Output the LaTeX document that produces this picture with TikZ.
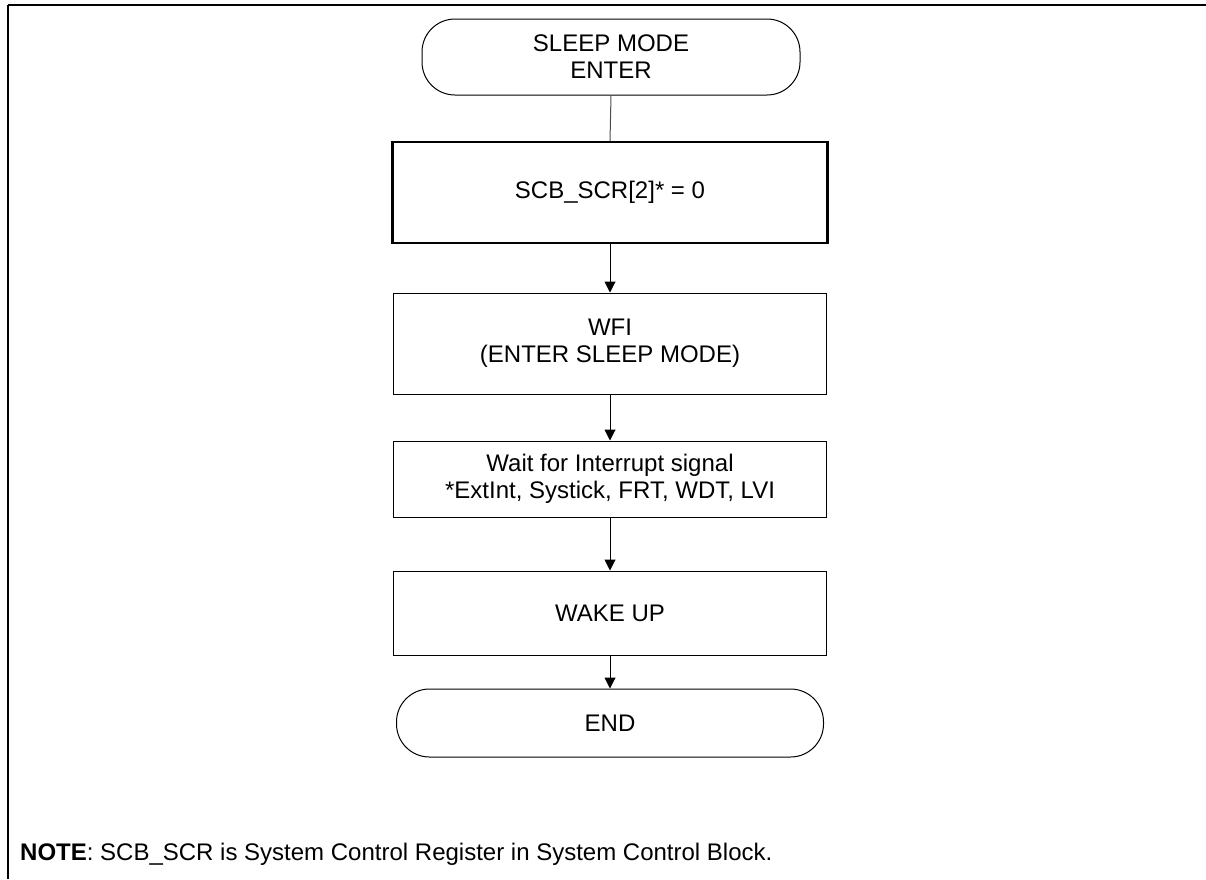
\documentclass[tikz,border=0pt]{standalone}
\usepackage{fontspec}
\setmainfont{Liberation Sans}
\usetikzlibrary{arrows.meta}

\tikzset{
  boxtext/.style={font=\fontsize{24}{27}\selectfont, align=center, inner sep=0pt},
  terminal/.style={boxtext, draw, line width=1pt, rounded corners=33pt},
  process/.style={boxtext, draw, line width=1pt},
  thickprocess/.style={boxtext, draw, line width=2.2pt},
  flow/.style={draw, line width=1pt, -{Triangle[length=11pt,width=11pt]}},
  plainflow/.style={draw=black!70, line width=1pt},
  frameline/.style={line width=2.5pt}
}

\begin{document}
\begin{tikzpicture}[x=1pt,y=-1pt]
  \useasboundingbox (0,0) rectangle (1206,879);

  % page frame (top and left edges)
  \draw[frameline] (8,5) -- (1206,5);
  \draw[frameline] (8,5) -- (8,879);

  % flow steps
  \node[terminal, minimum width=378pt, minimum height=76pt]
    (start) at (611,57) {SLEEP MODE\\ENTER};
  \node[thickprocess, minimum width=435pt, minimum height=101pt]
    (scb) at (610,192.5) {SCB\_SCR[2]* = 0};
  \node[process, minimum width=433pt, minimum height=101pt]
    (wfi) at (610,343.5) {WFI\\(ENTER SLEEP MODE)};
  \node[process, minimum width=433pt, minimum height=76pt]
    (wait) at (610,479) {Wait for Interrupt signal\\*ExtInt, Systick, FRT, WDT, LVI};
  \node[process, minimum width=433pt, minimum height=84pt]
    (wake) at (610,613) {WAKE UP};
  \node[terminal, minimum width=427pt, minimum height=68pt]
    (end) at (610,723) {END};

  % connectors
  \draw[plainflow] (start.south) -- (scb.north);
  \draw[flow] (scb) -- (wfi);
  \draw[flow] (wfi) -- (wait);
  \draw[flow] (wait) -- (wake);
  \draw[flow] (wake) -- (end);

  % footnote
  \node[anchor=base west, inner sep=0pt, font=\fontsize{24}{27}\selectfont]
    (note) at (20,860) {\textbf{NOTE}: SCB\_SCR is System Control Register in System Control Block.};
\end{tikzpicture}
\end{document}
